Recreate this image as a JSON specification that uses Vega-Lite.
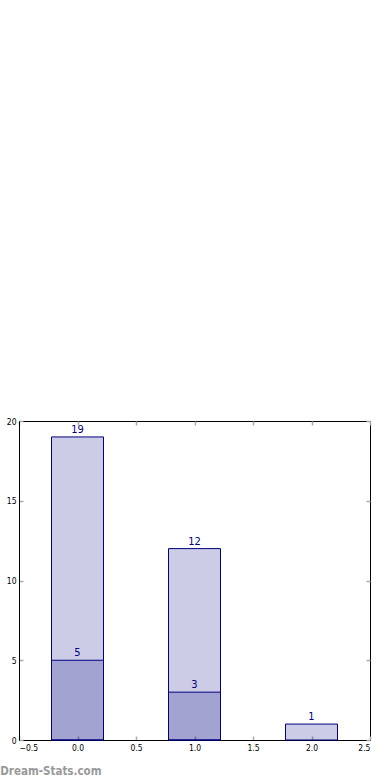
{
  "$schema": "https://vega.github.io/schema/vega-lite/v6.json",
  "width": 351,
  "height": 319,
  "autosize": {"type": "none"},
  "padding": {"left": 19, "top": 421, "right": 20, "bottom": 40},
  "background": "#ffffff",
  "config": {
    "view": {"stroke": "#000000", "strokeWidth": 1},
    "font": "DejaVu Sans",
    "axis": {
      "grid": false,
      "domainColor": "#000000",
      "domainWidth": 1,
      "tickColor": "#aaaaaa",
      "tickSize": -4,
      "tickWidth": 1.5,
      "labelFont": "DejaVu Sans Condensed",
      "labelFontSize": 8.5,
      "labelColor": "#000000",
      "labelPadding": 7,
      "title": null
    }
  },
  "title": {
    "text": "Dream-Stats.com",
    "orient": "bottom",
    "anchor": "start",
    "dx": -6,
    "offset": 14,
    "font": "DejaVu Sans Condensed",
    "fontSize": 11.5,
    "fontWeight": "bold",
    "color": "#999999"
  },
  "data": {
    "values": [
      {"x": 0, "total": 19, "sub": 5},
      {"x": 1, "total": 12, "sub": 3},
      {"x": 2, "total": 1, "sub": 0}
    ]
  },
  "layer": [
    {
      "mark": {"type": "bar", "size": 52, "fill": "#000080", "fillOpacity": 0.2, "stroke": "#000080", "strokeWidth": 1},
      "encoding": {
        "x": {"field": "x", "type": "quantitative", "scale": {"domain": [-0.5, 2.5], "nice": false, "zero": false, "padding": 0},
              "axis": {"orient": "bottom", "values": [-0.5, 0, 0.5, 1, 1.5, 2, 2.5], "format": ".1f"}},
        "y": {"field": "total", "type": "quantitative", "scale": {"domain": [0, 20], "nice": false, "padding": 0},
              "axis": {"orient": "left", "values": [0, 5, 10, 15, 20], "format": "d"}}
      }
    },
    {
      "transform": [{"filter": "datum.sub > 0"}],
      "mark": {"type": "bar", "size": 52, "fill": "#000080", "fillOpacity": 0.2, "stroke": "#000080", "strokeWidth": 1},
      "encoding": {
        "x": {"field": "x", "type": "quantitative",
              "axis": {"orient": "top", "values": [-0.5, 0, 0.5, 1, 1.5, 2, 2.5], "labels": false, "domain": false}},
        "y": {"field": "sub", "type": "quantitative",
              "axis": {"orient": "right", "values": [0, 5, 10, 15, 20], "labels": false, "domain": false}}
      }
    },
    {
      "mark": {"type": "text", "baseline": "alphabetic", "dy": -4, "font": "DejaVu Sans Condensed", "fontSize": 11, "color": "#000080"},
      "encoding": {
        "x": {"field": "x", "type": "quantitative", "axis": null},
        "y": {"field": "total", "type": "quantitative", "axis": null},
        "text": {"field": "total", "type": "quantitative"}
      }
    },
    {
      "transform": [{"filter": "datum.sub > 0"}],
      "mark": {"type": "text", "baseline": "alphabetic", "dy": -4, "font": "DejaVu Sans Condensed", "fontSize": 11, "color": "#000080"},
      "encoding": {
        "x": {"field": "x", "type": "quantitative", "axis": null},
        "y": {"field": "sub", "type": "quantitative", "axis": null},
        "text": {"field": "sub", "type": "quantitative"}
      }
    }
  ]
}
